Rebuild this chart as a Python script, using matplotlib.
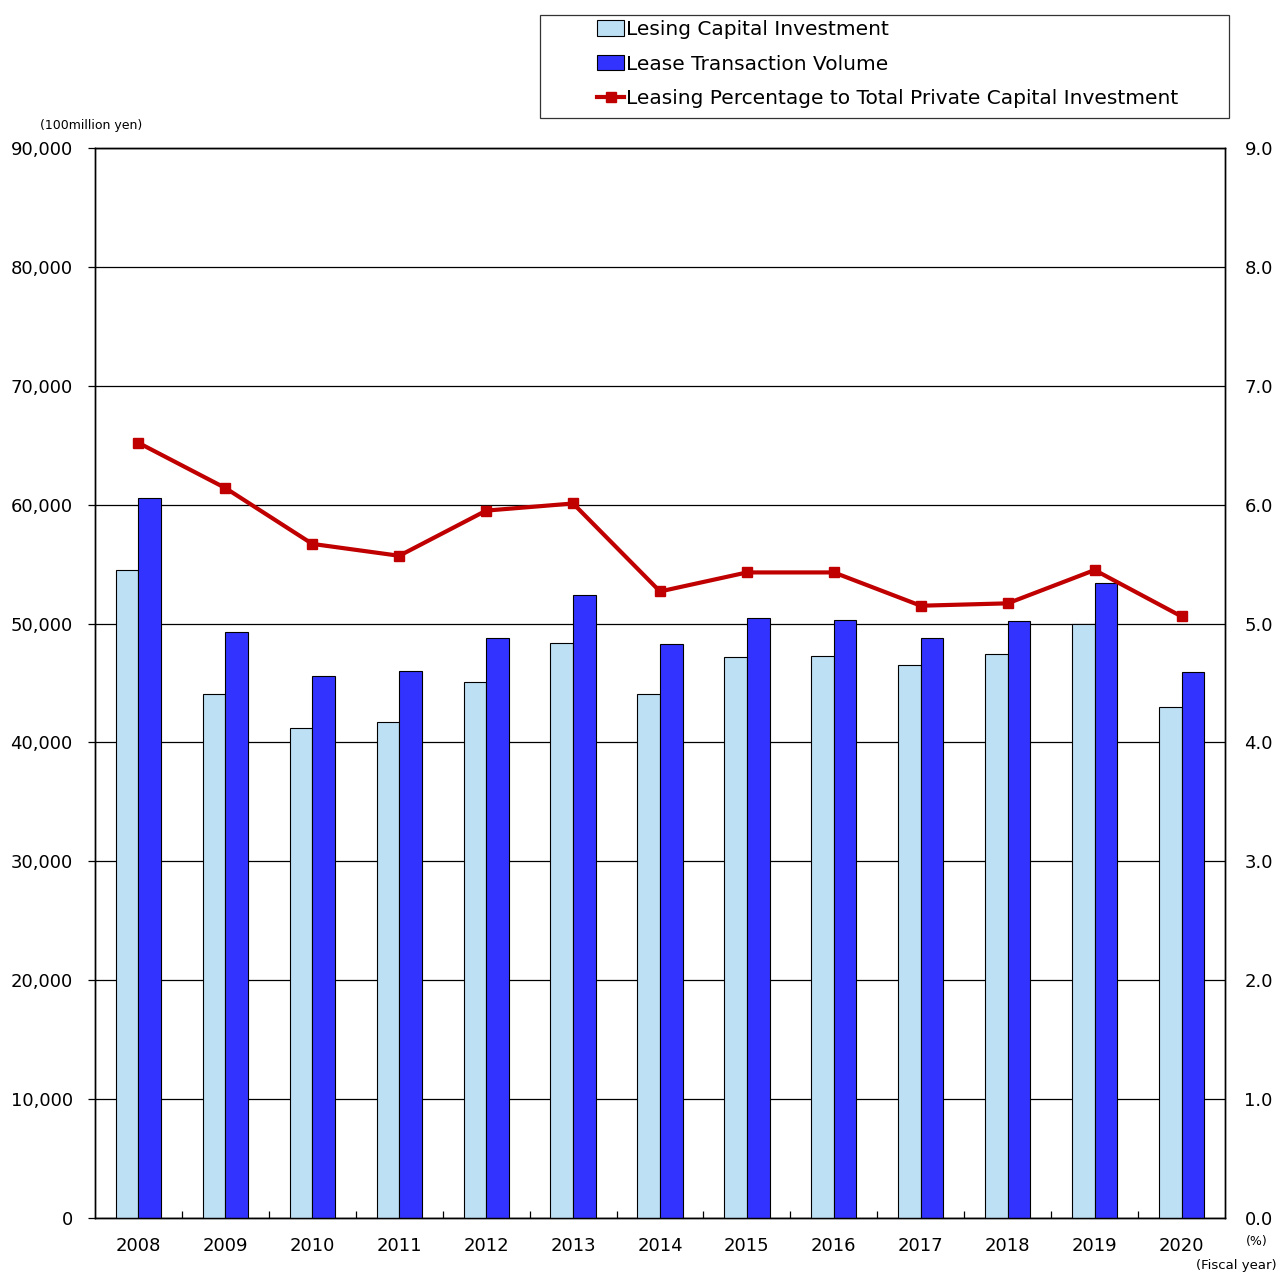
import matplotlib
matplotlib.use("Agg")
import matplotlib.pyplot as plt
import matplotlib.patches as mpatches
import matplotlib.lines as mlines
import numpy as np

# ── Data ──────────────────────────────────────────────────────────────────────
years = ["2008", "2009", "2010", "2011", "2012", "2013", "2014",
         "2015", "2016", "2017", "2018", "2019", "2020"]
leasing_capex = [54500, 44100, 41200, 41700, 45100, 48400, 44100,
                 47200, 47300, 46500, 47400, 50000, 43000]
lease_volume = [60600, 49300, 45600, 46000, 48800, 52400, 48300,
                50500, 50300, 48800, 50200, 53400, 45900]
leasing_pct = [6.52, 6.14, 5.67, 5.57, 5.95, 6.01, 5.27,
               5.43, 5.43, 5.15, 5.17, 5.45, 5.06]

LIGHT = "#BDE0F5"
DARK = "#3333FF"
RED = "#C00000"

plt.rcParams["font.family"] = ["DejaVu Sans"]

fig = plt.figure(figsize=(12.79, 12.75), dpi=100)
W, H = 1279, 1275
ax = fig.add_axes([95 / W, 1 - 1218 / H, (1225 - 95) / W, (1218 - 148) / H])
ax2 = ax.twinx()

x = np.arange(len(years))
bw = 0.26
ax.bar(x - bw / 2, leasing_capex, bw, color=LIGHT, edgecolor="black",
       linewidth=0.8, zorder=3)
ax.bar(x + bw / 2, lease_volume, bw, color=DARK, edgecolor="black",
       linewidth=0.8, zorder=3)

ax.set_xlim(-0.5, len(years) - 0.5)
ax.set_ylim(0, 90000)
ax.set_yticks(np.arange(0, 90001, 10000))
ax.set_yticklabels([f"{v:,}" for v in range(0, 90001, 10000)], fontsize=13)
ax.yaxis.grid(True, color="black", linewidth=0.9, zorder=0)
ax.set_axisbelow(True)
ax.tick_params(axis="y", length=5, width=0.9, pad=11)

ax.set_xticks(x)
ax.set_xticklabels(years, fontsize=13)
ax.tick_params(axis="x", length=0, pad=14)
ax.set_xticks(np.arange(0.5, len(years) - 1, 1), minor=True)
ax.tick_params(axis="x", which="minor", direction="in", length=5, width=0.9)

ax2.plot(x, leasing_pct, color=RED, linewidth=3, marker="s",
         markersize=7, zorder=5)
ax2.set_ylim(0, 9)
ax2.set_yticks(np.arange(0, 9.01, 1))
ax2.set_yticklabels([f"{v:.1f}" for v in np.arange(0, 9.01, 1)], fontsize=13)
ax2.tick_params(axis="y", length=0, pad=14)

for a in (ax, ax2):
    for s in a.spines.values():
        s.set_linewidth(1.0)

fig.text(40 / W, 1 - 126 / H, "(100million yen)", fontsize=9, va="center")
fig.text(1257 / W, 1 - 1242 / H, "(%)", fontsize=9, ha="center", va="center")
fig.text(1277 / W, 1 - 1266 / H, "(Fiscal year)", fontsize=9.5,
         ha="right", va="center")

# legend frame drawn separately so the entries can sit indented inside it
frame = mpatches.Rectangle((540 / W, 1 - 118 / H), (1229 - 540) / W,
                           (118 - 15) / H, transform=fig.transFigure,
                           facecolor="white", edgecolor="#333333",
                           linewidth=0.9)
fig.patches.append(frame)

handles = [
    mpatches.Patch(facecolor=LIGHT, edgecolor="black", linewidth=0.8,
                   label="Lesing Capital Investment"),
    mpatches.Patch(facecolor=DARK, edgecolor="black", linewidth=0.8,
                   label="Lease Transaction Volume"),
    mlines.Line2D([], [], color=RED, linewidth=3, marker="s", markersize=7,
                  label="Leasing Percentage to Total Private Capital Investment"),
]
leg = fig.legend(handles=handles, loc="upper left",
                 bbox_to_anchor=(597 / W, 1 - 20 / H), fontsize=14.5,
                 frameon=False, handlelength=1.35, handleheight=0.8,
                 handletextpad=0.1, labelspacing=0.78,
                 borderpad=0, borderaxespad=0)

fig.savefig("out.png", dpi=100)
